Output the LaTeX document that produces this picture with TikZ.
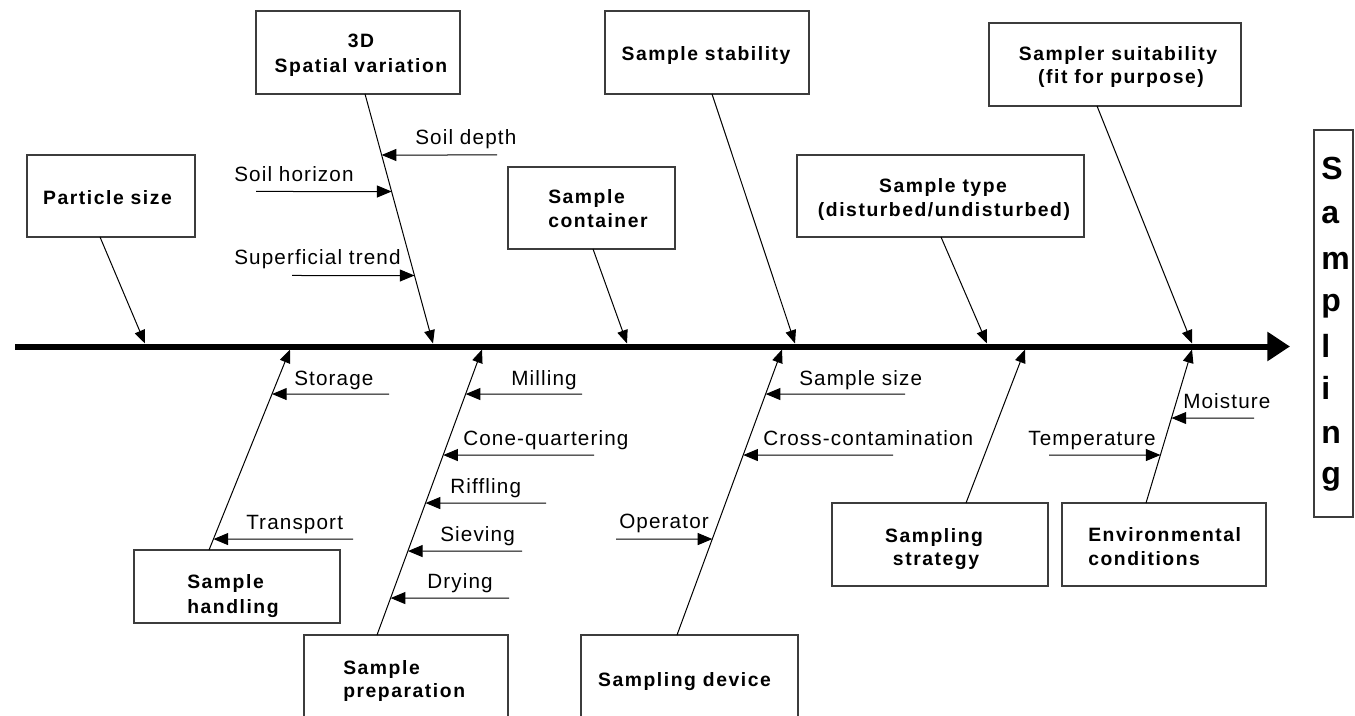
\documentclass[tikz,border=0pt]{standalone}
\usepackage{fontspec}
\setmainfont{Liberation Sans}
\newfontfamily\capfont{Liberation Sans}[LetterSpace=8]
\newfontfamily\subfont{Liberation Sans}[LetterSpace=5.5]
\usetikzlibrary{arrows.meta,calc}
\definecolor{boxgray}{RGB}{60,60,60}

\begin{document}
\begin{tikzpicture}[x=0.75pt,y=-0.75pt,
  box/.style={draw=boxgray,line width=0.9pt,inner sep=0pt,outer sep=0pt},
  boxtxt/.style={font=\capfont\bfseries\fontsize{14.5}{18}\selectfont,inner sep=0pt,anchor=base},
  boxtxtl/.style={boxtxt,anchor=base west},
  bigtxt/.style={font=\bfseries\fontsize{24}{28}\selectfont,inner sep=0pt,anchor=base west},
  subtxt/.style={font=\subfont\fontsize{15.5}{18}\selectfont,inner sep=0pt,anchor=base west},
  bone/.style={line width=0.75pt,-{Triangle[length=10pt,width=8pt]}},
  twig/.style={line width=0.75pt,-{Triangle[length=11pt,width=9pt]}},
  spine/.style={line width=4.5pt,-{Triangle[length=17pt,width=21pt]}}]
\useasboundingbox (0,0) rectangle (1355,716);
\clip (0,0) rectangle (1355,716);

% ---------- cause boxes above the spine ----------
\node[box,minimum width=126pt,minimum height=61.5pt]   (ps) at (111,196) {};
\node[box,minimum width=153pt,minimum height=62.25pt]  (sv) at (358,52.5) {};
\node[box,minimum width=153pt,minimum height=62.25pt]  (ss) at (707,52.5) {};
\node[box,minimum width=125.25pt,minimum height=61.5pt] (sc) at (591.5,208) {};
\node[box,minimum width=215.25pt,minimum height=61.5pt] (st) at (940.5,196) {};
\node[box,minimum width=189pt,minimum height=62.25pt]  (su) at (1115,64.5) {};

% ---------- cause boxes below the spine ----------
\node[box,minimum width=154.5pt,minimum height=54.75pt] (sh) at (237,586.5) {};
\node[box,minimum width=153pt,minimum height=66pt]      (sp) at (406,679) {};
\node[box,minimum width=162.75pt,minimum height=64.5pt] (sd) at (689.5,678) {};
\node[box,minimum width=162pt,minimum height=62.25pt]   (sg) at (940,544.5) {};
\node[box,minimum width=153pt,minimum height=62.25pt]   (ec) at (1164,544.5) {};

% ---------- effect box ----------
\node[box,minimum width=29.25pt,minimum height=290.25pt] (sa) at (1333.5,323.5) {};
\foreach \ch/\yy [count=\i] in {S/180,a/224,m/270,p/311,l/357,i/399,n/443,g/484}
  \node[bigtxt] (sa\i) at (1321,\yy) {\ch};

% ---------- box captions ----------
\node[boxtxt]  (ps-t)  at (107.5,205) {Particle size};
\node[boxtxt]  (sv-a)  at (361,48)    {3D};
\node[boxtxt]  (sv-b)  at (361,73)    {Spatial variation};
\node[boxtxt]  (ss-t)  at (706,61)    {Sample stability};
\node[boxtxtl] (sc-a)  at (548,204)   {Sample};
\node[boxtxtl] (sc-b)  at (548,228)   {container};
\node[boxtxt]  (st-a)  at (943,193)   {Sample type};
\node[boxtxt]  (st-b)  at (944,217)   {(disturbed/undisturbed)};
\node[boxtxt]  (su-a)  at (1118,61)   {Sampler suitability};
\node[boxtxt]  (su-b)  at (1121,84)   {(fit for purpose)};
\node[boxtxtl] (sh-a)  at (187,588)   {Sample};
\node[boxtxtl] (sh-b)  at (187,613)   {handling};
\node[boxtxtl] (sp-a)  at (343,674)   {Sample};
\node[boxtxtl] (sp-b)  at (343,697)   {preparation};
\node[boxtxt]  (sd-t)  at (684.5,686) {Sampling device};
\node[boxtxt]  (sg-a)  at (934,542)   {Sampling};
\node[boxtxt]  (sg-b)  at (936,565)   {strategy};
\node[boxtxtl] (ec-a)  at (1088,541)  {Environmental};
\node[boxtxtl] (ec-b)  at (1088,565)  {conditions};

% ---------- spine ----------
\coordinate (spL) at (15,346.5);
\coordinate (spR) at (1290,346.5);
\draw[spine] (spL) -- (spR);

% ---------- bones: start on a box edge, end on the spine ----------
\coordinate (psS) at ($(ps.south)+(-11,0)$);   \coordinate (psE) at (145,343.5);
\coordinate (svS) at ($(sv.south)+(7,0)$);     \coordinate (svE) at (433,343.5);
\coordinate (scS) at ($(sc.south)+(1.5,0)$);   \coordinate (scE) at (627,343.5);
\coordinate (ssS) at ($(ss.south)+(5,0)$);     \coordinate (ssE) at (795,343.5);
\coordinate (stS) at ($(st.south)+(0.5,0)$);   \coordinate (stE) at (987,343.5);
\coordinate (suS) at ($(su.south)+(-18,0)$);   \coordinate (suE) at (1192,343.5);
\coordinate (shS) at ($(sh.north)+(-28,0)$);   \coordinate (shE) at (290,349.5);
\coordinate (spS) at ($(sp.north)+(-29,0)$);   \coordinate (spE) at (482,349.5);
\coordinate (sdS) at ($(sd.north)+(-12.5,0)$); \coordinate (sdE) at (782,349.5);
\coordinate (sgS) at ($(sg.north)+(26,0)$);    \coordinate (sgE) at (1025,349.5);
\coordinate (ecS) at ($(ec.north)+(-18,0)$);   \coordinate (ecE) at (1192,349.5);
\foreach \b in {ps,sv,sc,ss,st,su,sh,sp,sd,sg,ec}
  \draw[bone] (\b S) -- (\b E);

% ---------- sub-causes: arrows that end on a bone ----------
% spatial variation
\coordinate (t1) at (497,155);   \draw[twig] (t1) -- (intersection of svS--svE and 0,155--1,155);
\coordinate (t2) at (256,191.5); \draw[twig] (t2) -- (intersection of svS--svE and 0,191.5--1,191.5);
\coordinate (t3) at (292,275.5); \draw[twig] (t3) -- (intersection of svS--svE and 0,275.5--1,275.5);
% sample handling
\coordinate (t4) at (389,394);   \draw[twig] (t4) -- (intersection of shS--shE and 0,394--1,394);
\coordinate (t5) at (353,539);   \draw[twig] (t5) -- (intersection of shS--shE and 0,539--1,539);
% sample preparation
\coordinate (t6) at (582,394);   \draw[twig] (t6) -- (intersection of spS--spE and 0,394--1,394);
\coordinate (t7) at (594,455);   \draw[twig] (t7) -- (intersection of spS--spE and 0,455--1,455);
\coordinate (t8) at (546,503);   \draw[twig] (t8) -- (intersection of spS--spE and 0,503--1,503);
\coordinate (t9) at (522,551);   \draw[twig] (t9) -- (intersection of spS--spE and 0,551--1,551);
\coordinate (t10) at (509,598);  \draw[twig] (t10) -- (intersection of spS--spE and 0,598--1,598);
% sampling device
\coordinate (t11) at (905,394);  \draw[twig] (t11) -- (intersection of sdS--sdE and 0,394--1,394);
\coordinate (t12) at (893,455);  \draw[twig] (t12) -- (intersection of sdS--sdE and 0,455--1,455);
\coordinate (t13) at (616,539);  \draw[twig] (t13) -- (intersection of sdS--sdE and 0,539--1,539);
% environmental conditions
\coordinate (t14) at (1254,418); \draw[twig] (t14) -- (intersection of ecS--ecE and 0,418--1,418);
\coordinate (t15) at (1049,455); \draw[twig] (t15) -- (intersection of ecS--ecE and 0,455--1,455);

% ---------- sub-cause labels ----------
\node[subtxt] (l1)  at (415,145)  {Soil depth};
\node[subtxt] (l2)  at (234,182)  {Soil horizon};
\node[subtxt] (l3)  at (234,265)  {Superficial trend};
\node[subtxt] (l4)  at (294,385)  {Storage};
\node[subtxt] (l5)  at (246,529)  {Transport};
\node[subtxt] (l6)  at (511,385)  {Milling};
\node[subtxt] (l7)  at (463,445)  {Cone-quartering};
\node[subtxt] (l8)  at (450,493)  {Riffling};
\node[subtxt] (l9)  at (440,541)  {Sieving};
\node[subtxt] (l10) at (427,588)  {Drying};
\node[subtxt] (l11) at (799,385)  {Sample size};
\node[subtxt] (l12) at (763,445)  {Cross-contamination};
\node[subtxt] (l13) at (619,528)  {Operator};
\node[subtxt] (l14) at (1183,408) {Moisture};
\node[subtxt] (l15) at (1028,445) {Temperature};
\end{tikzpicture}
\end{document}
